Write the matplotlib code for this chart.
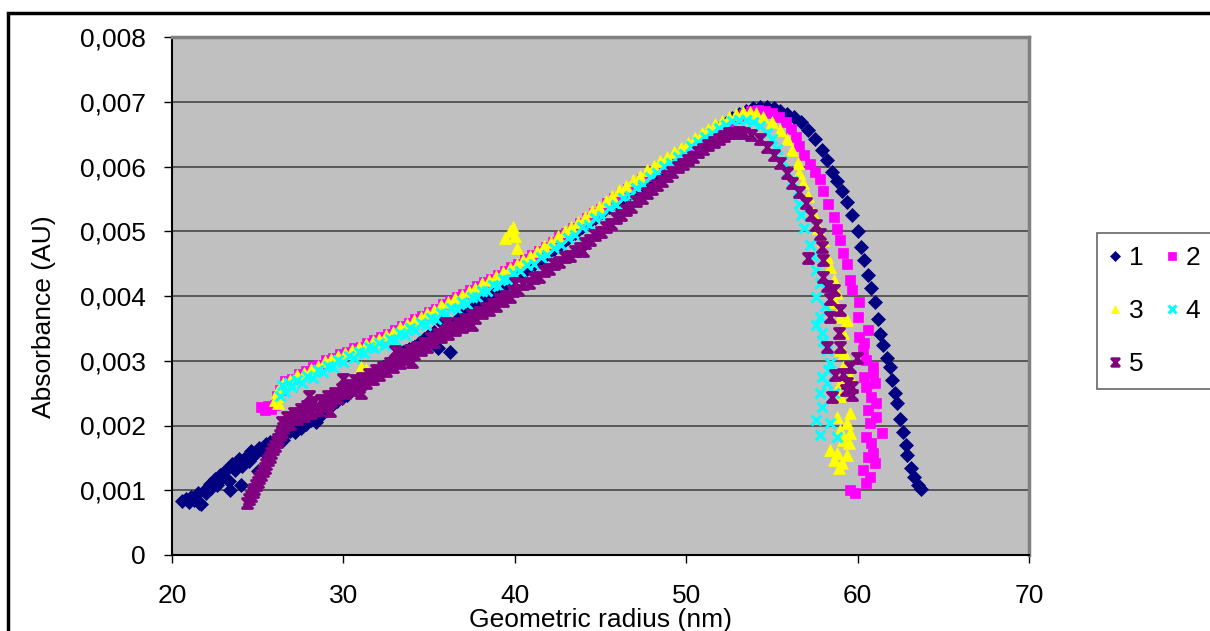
import numpy as np
import matplotlib.pyplot as plt
from matplotlib.path import Path
from matplotlib.patches import Rectangle
from matplotlib.ticker import FuncFormatter

plt.rcParams['font.family'] = ['Liberation Sans', 'DejaVu Sans']

# (radius nm, absorbance in 1e-3 AU)
s1 = [(20.6,0.83),(20.8,0.86),(21.0,0.82),(21.1,0.90),(21.3,0.85),(21.5,0.95),(21.6,0.80),(21.7,0.78),
      (21.9,1.00),(22.0,0.96),(22.2,1.10),(22.3,1.04),(22.5,1.17),(22.6,1.08),(22.8,1.24),(23.0,1.20),
      (23.1,1.30),(23.3,1.15),(23.4,1.00),(23.5,1.40),(23.7,1.32),(23.9,1.48),(24.0,1.08),(24.1,1.38),
      (24.3,1.52),(24.5,1.45),(24.6,1.60),(24.8,1.55),(25.0,1.30),(25.1,1.66),(25.3,1.60),(25.5,1.72),
      (25.7,1.75),(25.9,1.70),(26.1,1.80),(26.3,1.85),(26.5,1.78),(26.7,1.90),(26.9,1.92),(27.2,1.90),
      (27.5,1.96),(27.8,2.02),(28.1,2.08),(28.4,2.06),(28.7,2.16),(29.0,2.24),(29.3,2.30),(29.6,2.38),
      (29.9,2.42),(30.2,2.47),(30.5,2.58),(30.8,2.62),(31.1,2.68),(31.4,2.72),(31.7,2.80),(32.0,2.83),
      (32.3,2.90),(32.6,2.95),(32.9,3.02),(33.2,3.08),(33.5,3.13),(33.8,3.18),(34.1,3.22),(34.4,3.28),
      (34.7,3.33),(35.0,3.40),(35.3,3.45),(35.5,3.20),(35.6,3.63),(35.9,3.48),(36.2,3.13),(36.2,3.53),
      (36.5,3.60),(36.8,3.68),(37.1,3.75),(37.4,3.80),(37.7,3.86),(38.0,3.92),(38.3,3.98),(38.6,4.03),
      (38.9,4.08),(39.2,4.13),(39.5,4.18),(39.9,4.27),(40.3,4.34),(40.7,4.41),(41.1,4.49),(41.5,4.57),
      (41.9,4.65),(42.3,4.73),(42.7,4.81),(43.1,4.90),(43.5,4.98),(43.9,5.06),(44.3,5.14),(44.7,5.21),
      (45.1,5.29),(45.5,5.37),(45.9,5.45),(46.3,5.52),(46.7,5.59),(47.1,5.65),(47.5,5.71),(47.9,5.78),
      (48.3,5.87),(48.7,5.95),(49.1,6.02),(49.5,6.09),(49.9,6.15),(50.3,6.22),(50.7,6.31),(51.1,6.40),
      (51.5,6.49),(51.9,6.59),(52.3,6.67),(52.7,6.75),(53.1,6.81),(53.5,6.86),(53.9,6.90),(54.3,6.92),
      (54.7,6.92),(55.1,6.90),(55.5,6.86),(55.9,6.81),(56.3,6.76),(56.7,6.68),(57.1,6.56),(57.5,6.43),
      (57.9,6.25),(58.2,6.10),(58.5,5.92),(58.8,5.78),(59.1,5.62),(59.4,5.45),(59.7,5.25),(60.0,5.00),
      (60.2,4.75),(60.4,4.55),(60.6,4.32),(60.8,4.12),(61.0,3.90),(61.2,3.65),(61.3,3.42),(61.5,3.25),
      (61.7,3.05),(61.9,2.90),(62.0,2.70),(62.2,2.50),(62.3,2.35),(62.5,2.10),(62.65,1.90),(62.8,1.70),
      (62.9,1.55),(63.1,1.35),(63.3,1.20),(63.5,1.08),(63.7,1.02)]

s2 = [(25.2,2.28),(25.4,2.24),(25.6,2.30),(25.8,2.26),(26.0,2.32),(26.1,2.45),(26.3,2.55),
      (26.6,2.68),(27.0,2.72),(27.4,2.80),(27.8,2.84),(28.2,2.91),(28.6,2.94),(29.0,3.01),(29.4,3.05),
      (29.8,3.10),(30.2,3.14),(30.6,3.19),(31.0,3.22),(31.4,3.28),(31.8,3.32),(32.2,3.36),(32.6,3.42),
      (33.0,3.47),(33.4,3.53),(33.8,3.58),(34.2,3.64),(34.6,3.69),(35.0,3.76),(35.4,3.80),(35.8,3.87),
      (36.2,3.92),(36.6,3.98),(37.0,4.03),(37.4,4.10),(37.8,4.15),(38.2,4.21),(38.6,4.26),(39.0,4.33),
      (39.4,4.39),(39.8,4.45),(40.2,4.50),(40.6,4.57),(41.0,4.63),(41.4,4.70),(41.8,4.76),(42.2,4.84),
      (42.6,4.91),(43.0,4.98),(43.4,5.05),(43.8,5.12),(44.2,5.20),(44.6,5.28),(45.0,5.35),(45.4,5.43),
      (45.8,5.51),(46.2,5.58),(46.6,5.66),(47.0,5.73),(47.4,5.80),(47.8,5.86),(48.2,5.93),(48.6,5.98),
      (49.0,6.05),(49.4,6.10),(49.8,6.17),(50.2,6.23),(50.6,6.32),(51.0,6.40),(51.4,6.47),(51.8,6.55),
      (52.2,6.62),(52.6,6.69),(53.0,6.75),(53.4,6.81),(53.8,6.85),(54.2,6.87),(54.6,6.86),(55.0,6.82),
      (55.4,6.76),(55.8,6.68),(56.1,6.58),(56.4,6.45),(56.6,6.32),(56.9,6.18),(57.2,6.04),(57.5,5.92),
      (57.8,5.80),(58.0,5.62),(58.3,5.42),(58.6,5.22),(58.8,5.04),(59.0,4.86),(59.15,4.66),(59.4,4.50),
      (59.55,4.25),(59.7,4.10),(60.1,3.91),(60.0,3.68),(60.6,3.47),(60.1,3.37),(60.4,3.27),(60.3,3.17),
      (60.5,3.01),(60.9,2.90),(60.9,2.81),(60.4,2.75),(61.0,2.66),(60.5,2.60),(60.8,2.44),(61.1,2.35),
      (60.6,2.24),(61.1,2.13),(60.7,2.04),(61.4,1.88),(60.5,1.82),(60.8,1.73),(60.9,1.57),(60.6,1.51),
      (61.0,1.42),(60.3,1.31),(60.7,1.20),(60.5,1.11),(59.55,1.00),(59.85,0.96)]

s3 = [(26.0,2.40),(26.1,2.52),(26.2,2.35),(26.3,2.58),(26.2,2.46),
      (26.5,2.66),(26.9,2.70),(27.3,2.78),(27.7,2.81),(28.1,2.88),(28.5,2.92),(28.9,2.99),(29.3,3.03),
      (29.7,3.08),(30.1,3.12),(30.5,3.17),(30.9,3.21),(31.0,2.90),(31.3,2.88),(31.3,3.26),(31.7,3.31),
      (32.1,3.34),(32.5,3.40),(32.9,3.45),(33.3,3.52),(33.7,3.56),(34.1,3.63),(34.5,3.68),(34.9,3.74),
      (35.3,3.79),(35.7,3.86),(36.1,3.90),(36.5,3.97),(36.9,4.02),(37.3,4.08),(37.7,4.13),(38.1,4.20),
      (38.5,4.24),(38.9,4.31),(39.3,4.37),(39.7,4.43),(40.1,4.49),(39.4,4.90),(39.9,5.07),(40.0,4.92),
      (40.1,4.74),(39.7,5.00),(40.5,4.56),(40.9,4.62),(41.3,4.70),(41.7,4.77),(42.1,4.84),(42.5,4.92),
      (42.9,5.00),(43.3,5.07),(43.7,5.15),(44.1,5.22),(44.5,5.31),(44.9,5.38),(45.3,5.47),(45.7,5.54),
      (46.1,5.63),(46.5,5.70),(46.9,5.79),(47.3,5.86),(47.7,5.95),(48.1,6.01),(48.5,6.09),(48.9,6.15),
      (49.3,6.23),(49.7,6.29),(50.1,6.37),(50.5,6.44),(50.9,6.52),(51.3,6.58),(51.7,6.65),(52.1,6.71),
      (52.5,6.77),(52.9,6.81),(53.3,6.84),(53.7,6.84),(54.1,6.82),(54.5,6.77),(55.0,6.68),(55.5,6.56),
      (55.9,6.42),(56.2,6.25),(56.5,6.05),(56.6,5.90),(56.8,5.75),(57.1,5.55),(57.4,5.28),(57.7,5.05),
      (58.0,4.86),(58.2,4.60),(58.4,4.45),(58.6,4.25),(58.8,4.05),(58.7,3.90),(58.9,3.80),(59.0,3.68),
      (59.4,3.63),(59.15,3.43),(59.0,3.17),(59.2,3.12),(59.15,2.90),(59.55,2.75),(59.0,2.66),(59.4,2.55),
      (59.0,2.45),(59.55,2.19),(58.8,2.13),(59.4,2.04),(59.0,1.93),(59.55,1.88),(59.15,1.78),(59.5,1.73),
      (58.4,1.62),(58.8,1.57),(59.4,1.54),(58.6,1.47),(59.1,1.42),(58.9,1.34)]

s4 = [(26.3,2.45),(26.4,2.62),(26.6,2.52),(26.8,2.66),(27.0,2.60),(27.3,2.70),(27.6,2.66),(27.9,2.77),
      (28.2,2.74),(28.5,2.85),(28.8,2.82),(29.1,2.92),(29.4,2.90),(29.7,3.01),(30.0,2.98),(30.3,3.07),
      (30.6,3.04),(30.9,3.14),(31.2,3.12),(31.5,3.22),(31.8,3.19),(32.1,3.28),(32.4,3.25),(32.7,3.34),
      (33.0,3.32),(33.3,3.43),(33.6,3.40),(33.9,3.50),(34.2,3.48),(34.5,3.58),(34.8,3.55),(35.1,3.66),
      (35.4,3.64),(35.7,3.74),(36.0,3.72),(36.3,3.82),(36.6,3.80),(36.9,3.90),(37.2,3.88),(37.5,3.99),
      (37.8,3.98),(38.1,4.08),(38.4,4.07),(38.7,4.17),(39.0,4.15),(39.3,4.26),(39.6,4.25),(39.9,4.35),
      (40.3,4.38),(40.7,4.48),(41.1,4.50),(41.5,4.60),(41.9,4.63),(42.3,4.74),(42.7,4.78),(43.1,4.90),
      (43.5,4.94),(43.9,5.06),(44.3,5.10),(44.7,5.21),(45.1,5.24),(45.5,5.36),(45.9,5.40),(46.3,5.51),
      (46.7,5.55),(47.1,5.67),(47.5,5.72),(47.9,5.84),(48.3,5.90),(48.7,6.01),(49.1,6.05),(49.5,6.15),
      (49.9,6.20),(50.3,6.31),(50.7,6.38),(51.1,6.46),(51.5,6.52),(51.9,6.59),(52.3,6.64),(52.7,6.70),
      (53.1,6.72),(53.5,6.72),(53.9,6.69),(54.3,6.62),(54.7,6.52),(55.0,6.42),(55.3,6.27),(55.6,6.08),
      (55.9,5.92),(56.2,5.78),(56.5,5.62),(56.6,5.42),(56.7,5.25),(56.9,5.05),(57.2,4.78),(57.4,4.62),
      (57.6,4.40),(57.8,4.20),(58.1,3.85),(57.6,3.98),(57.8,3.68),(57.6,3.55),(57.95,3.43),(58.0,3.30),
      (58.2,3.17),(58.4,2.97),(58.3,2.85),(57.95,2.75),(58.2,2.66),(57.8,2.50),(58.6,2.50),(57.95,2.29),
      (57.6,2.08),(58.4,2.04),(57.8,1.85),(58.8,1.82)]

s5 = [(24.4,0.80),(24.5,0.86),(24.6,0.91),(24.7,0.97),(24.8,1.02),(24.9,1.08),(25.0,1.13),(25.1,1.19),
      (25.2,1.24),(25.3,1.30),(25.4,1.35),(25.5,1.41),(25.6,1.46),(25.7,1.52),(25.8,1.57),(25.9,1.63),
      (26.0,1.68),(26.1,1.74),(26.2,1.79),(26.3,1.85),(26.4,1.90),(26.5,1.96),(26.6,2.01),
      (26.4,2.05),(26.7,2.13),(26.9,2.02),(27.1,2.20),(27.3,2.10),(27.5,2.25),(27.7,2.15),(27.9,2.30),
      (28.0,2.45),(28.1,2.19),(28.3,2.36),(28.5,2.24),(28.7,2.40),(28.9,2.30),(29.1,2.45),(29.2,2.22),
      (29.3,2.38),(29.5,2.50),(29.7,2.42),(29.9,2.57),(30.0,2.72),(30.1,2.50),(30.3,2.63),(30.5,2.55),
      (30.7,2.70),(30.9,2.60),(31.0,2.50),(31.1,2.73),(31.3,2.66),(31.5,2.80),(31.7,2.72),(31.9,2.85),
      (32.1,2.78),(32.3,2.90),(32.5,2.84),(32.7,2.97),(32.9,2.90),(33.0,3.15),(33.1,3.03),(33.3,2.97),
      (33.5,3.10),(33.7,3.03),(33.9,3.16),(34.0,2.98),(34.1,3.10),(34.3,3.22),(34.5,3.16),(34.7,3.28),
      (34.9,3.22),(35.1,3.35),(35.3,3.29),(35.5,3.41),(35.7,3.36),(35.9,3.46),(36.0,3.58),(36.1,3.42),
      (36.3,3.52),(36.5,3.47),(36.7,3.58),(36.9,3.52),(37.1,3.64),(37.3,3.60),(37.5,3.70),(37.5,3.55),
      (37.7,3.66),(37.9,3.76),(38.1,3.73),(38.3,3.82),(38.5,3.78),(38.7,3.88),(38.9,3.85),(39.1,3.95),
      (39.3,3.92),(39.5,4.00),(39.7,3.98),(39.9,4.08),(40.0,4.20),(40.2,4.10),(40.5,4.18),(40.8,4.20),
      (41.1,4.28),(41.4,4.30),(41.7,4.38),(42.0,4.42),(42.3,4.50),(42.6,4.52),(42.9,4.60),(43.2,4.62),
      (43.5,4.70),(43.8,4.74),(44.0,4.70),(44.1,4.82),(44.4,4.86),(44.7,4.94),(45.0,4.99),(45.3,5.07),
      (45.6,5.11),(45.9,5.20),(46.2,5.25),(46.5,5.33),(46.8,5.38),(47.1,5.47),(47.4,5.51),(47.7,5.59),
      (48.0,5.65),(48.3,5.72),(48.6,5.78),(48.9,5.86),(49.2,5.91),(49.5,5.99),(49.8,6.04),(50.1,6.10),
      (50.4,6.15),(50.7,6.22),(51.0,6.27),(51.3,6.33),(51.6,6.38),(51.9,6.43),(52.2,6.47),(52.5,6.51),
      (52.8,6.52),(53.1,6.53),(53.4,6.51),(53.8,6.48),(54.3,6.42),(54.7,6.30),(55.1,6.18),(55.5,6.05),
      (55.9,5.90),(56.2,5.75),(56.6,5.60),(57.0,5.44),(57.3,5.25),(57.6,5.10),(57.8,4.95),(57.9,4.75),
      (58.0,4.55),(57.1,4.58),(58.0,4.30),(58.2,4.15),(58.6,4.10),(58.4,3.95),(58.4,3.68),(59.0,3.78),
      (58.9,3.43),(58.2,3.21),(59.0,3.21),(59.95,3.04),(59.55,2.90),(58.7,2.78),(59.15,2.80),(59.4,2.66),
      (59.7,2.60),(59.3,2.55),(59.7,2.47),(58.5,2.44)]

series = [s1, s2, s3, s4, s5]
labels = ['1', '2', '3', '4', '5']
colors = ['#000080', '#FF00FF', '#FFFF00', '#00FFFF', '#800080']

# excel-like "star" marker, looks like a small hourglass at this size
hourglass = Path([(-1, 1), (1, 1), (-1, -1), (1, -1), (-1, 1)],
                 [Path.MOVETO, Path.LINETO, Path.LINETO, Path.LINETO, Path.CLOSEPOLY])
markers = ['D', 's', '^', 'x', hourglass]
msizes = [7, 7, 8, 7, 7]

fig = plt.figure(figsize=(12.1, 6.31), dpi=100)
ax = fig.add_axes([172/1210, 1-555/631, 857/1210, 518/631])
ax.set_facecolor('#C0C0C0')

handles = []
for s, lab, c, m, ms in zip(series, labels, colors, markers, msizes):
    d = np.array(s)
    h, = ax.plot(d[:, 0], d[:, 1]*1e-3, ls='none', marker=m, ms=ms, color=c,
                 mec=c, mew=2.2 if m in ('x', hourglass) else 0.5, label=lab)
    handles.append(h)

ax.set_xlim(20, 70)
ax.set_ylim(0, 0.008)
ax.set_xticks(np.arange(20, 71, 10))
ax.set_yticks(np.arange(0, 0.0081, 0.001))
ax.yaxis.set_major_formatter(FuncFormatter(lambda v, p: '0' if abs(v) < 1e-9 else f'{v:.3f}'.replace('.', ',')))
ax.yaxis.grid(True, color='#505050', lw=1.3)
ax.set_axisbelow(True)

for side in ['left', 'bottom']:
    ax.spines[side].set_color('black')
    ax.spines[side].set_linewidth(1.5)
for side in ['top', 'right']:
    ax.spines[side].set_color('#808080')
    ax.spines[side].set_linewidth(2.5)

ax.tick_params(axis='both', direction='out', length=6, width=1, labelsize=19)
ax.tick_params(axis='y', pad=13)
ax.tick_params(axis='x', pad=15)

ax.set_xlabel('Geometric radius (nm)', fontsize=19, va='top')
ax.xaxis.set_label_coords(0.5, -0.103)
ax.set_ylabel('Absorbance (AU)', fontsize=19, va='center')
ax.yaxis.set_label_coords(-0.149, 0.461)

# row-major order in a 2-column legend: 1 2 / 3 4 / 5
order = [0, 2, 4, 1, 3]
leg = fig.legend([handles[i] for i in order], [labels[i] for i in order],
                 loc='upper left', bbox_to_anchor=(1097/1210, 1-233/631),
                 ncol=2, fontsize=19, frameon=True, fancybox=False,
                 edgecolor='#404040', borderpad=0.5, labelspacing=1.1,
                 handlelength=0.4, handletextpad=0.3, columnspacing=0.9,
                 markerscale=0.75, borderaxespad=0)
leg.get_frame().set_linewidth(1.2)

fig.patches.append(Rectangle((8/1210, -0.05), 2, 0.05 + 1 - 13/631, transform=fig.transFigure,
                             fill=False, ec='black', lw=2.5))

fig.savefig('out.png', dpi=100)
